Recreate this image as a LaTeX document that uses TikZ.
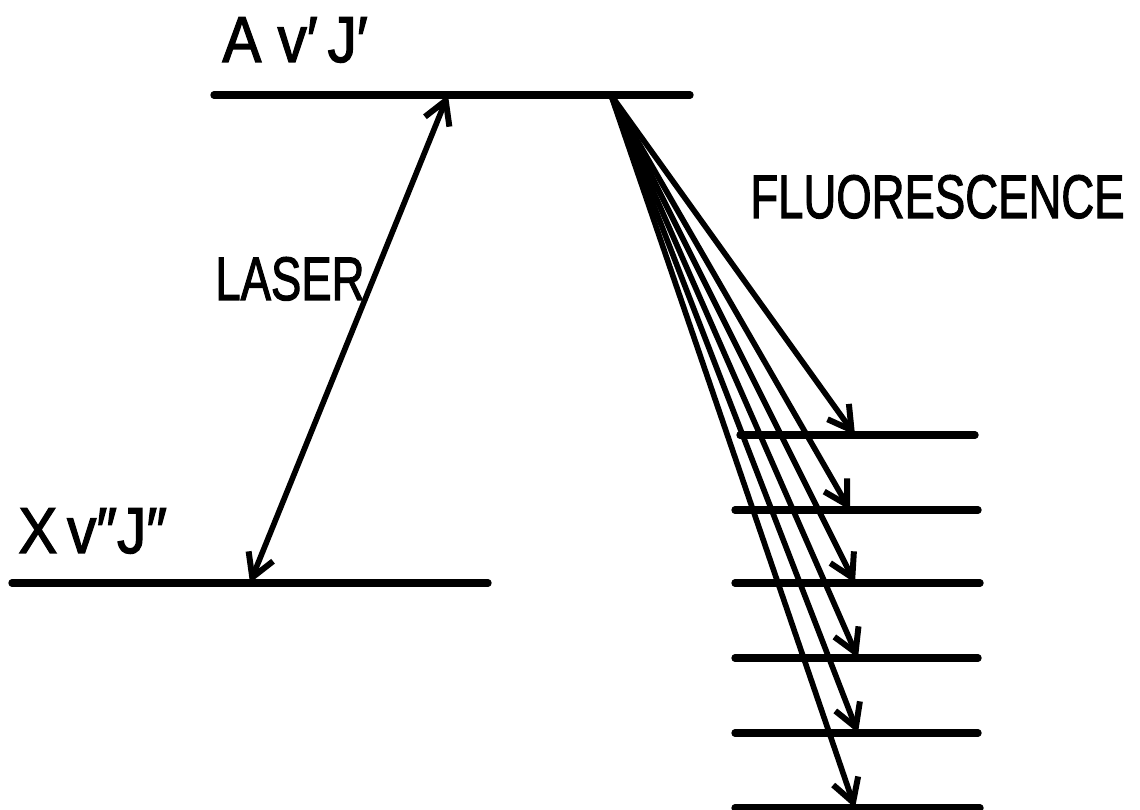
\documentclass[tikz,border=0pt]{standalone}
\usepackage{fontspec}
\setmainfont{Liberation Sans}[FakeBold=2]
\usetikzlibrary{arrows.meta}
\tikzset{
  level/.style={line width=4.2pt, line cap=round},
  trans/.style={line width=3.2pt, -{Straight Barb[length=13pt,width=15pt,line width=3.4pt]}},
  label/.style={inner sep=0pt, font=\fontsize{37}{40}\selectfont},
  word/.style={inner sep=0pt, font=\fontsize{35}{40}\selectfont}
}
\begin{document}
\begin{tikzpicture}[x=0.02cm,y=-0.02cm]
\useasboundingbox (0,0) rectangle (1140,810);
% upper level
\coordinate (AL) at (214,95);
\coordinate (AR) at (690,95);
\draw[level] (AL) -- (AR);
% lower level
\coordinate (XL) at (12,583);
\coordinate (XR) at (488,583);
\draw[level] (XL) -- (XR);
% labels
\node[label, anchor=base west] (Alab) at (222,62) {\scalebox{0.9}[1]{A v′\,J′}};
\node[label, anchor=base west] (Xlab) at (18,553) {\scalebox{0.9}[1]{X\,v″J″}};
\node[word, anchor=base west] (laser) at (215,300) {\scalebox{0.74}[1]{LASER}};
\node[word, anchor=base west] (fluo) at (750,218) {\scalebox{0.74}[1]{FLUORESCENCE}};
% laser arrow
\coordinate (lu) at (448,95);
\coordinate (ld) at (250,583);
\draw[line width=3.2pt, {Straight Barb[length=13pt,width=15pt,line width=3.4pt]}-{Straight Barb[length=13pt,width=15pt,line width=3.4pt]}] (ld) -- (lu);
% fluorescence
\coordinate (src) at (611,95);
\foreach \i/\yy/\xl/\xr/\xt in {1/435/740/975/855, 2/510/735/978/850, 3/583/735/980/855, 4/658/735/978/858, 5/733/735/978/858, 6/808/735/980/855}{
  \coordinate (L\i l) at (\xl,\yy);
  \coordinate (L\i r) at (\xr,\yy);
  \coordinate (T\i) at (\xt,\yy);
  \draw[level] (L\i l) -- (L\i r);
  \draw[trans] (src) -- (T\i);
}
\end{tikzpicture}
\end{document}
